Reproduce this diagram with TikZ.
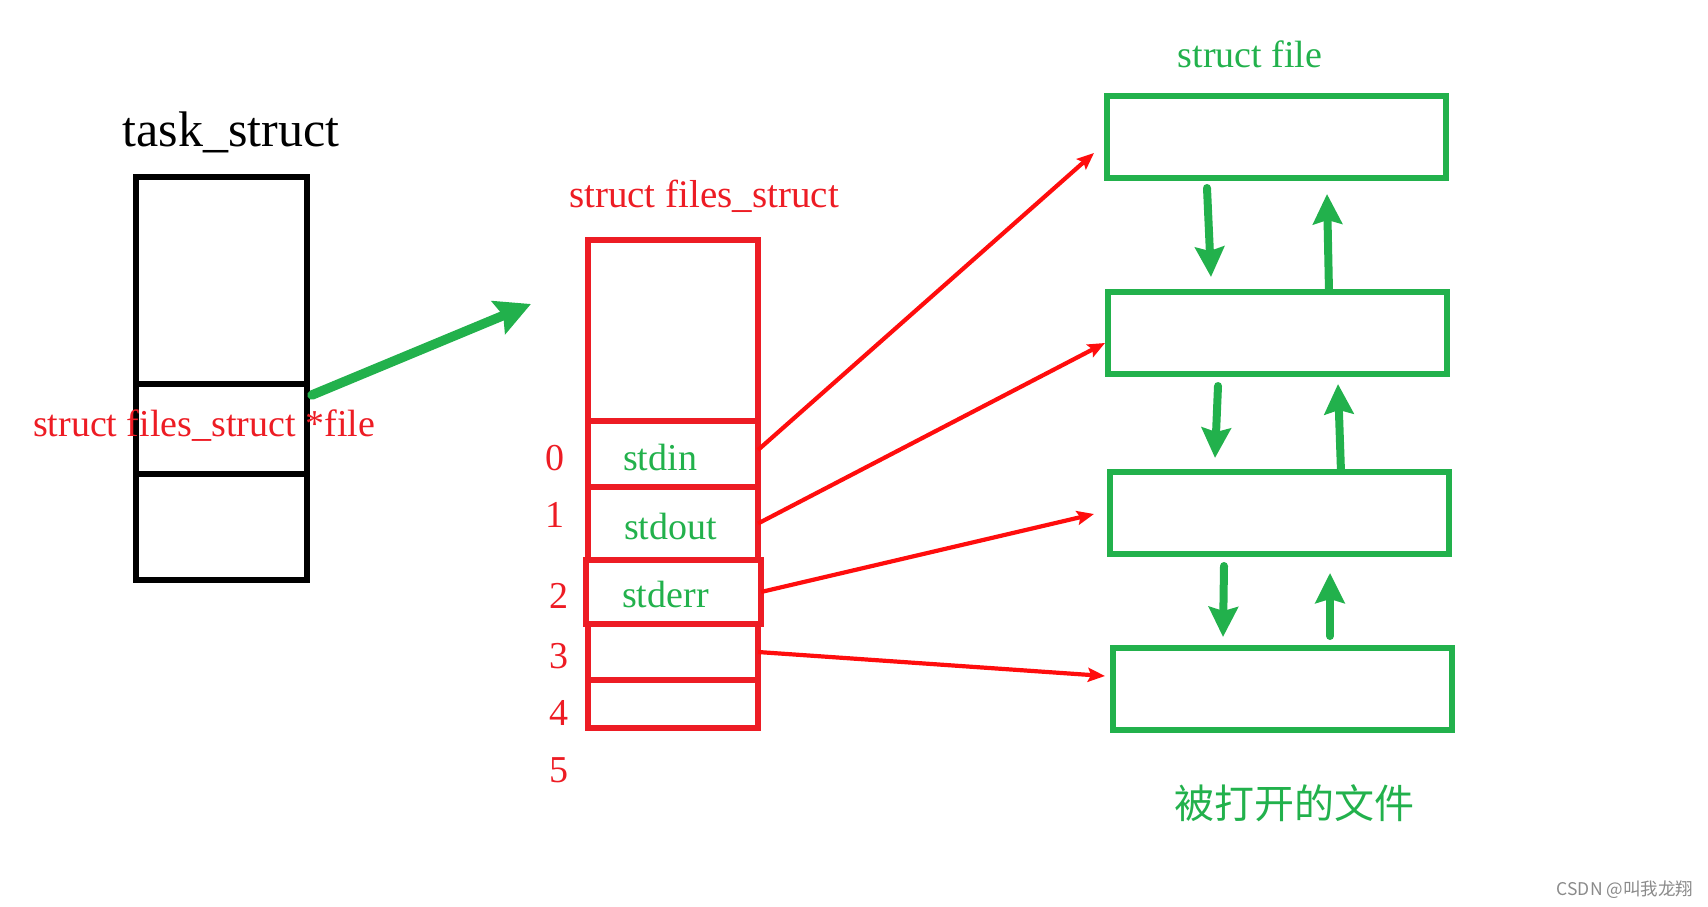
\documentclass[tikz,border=0pt]{standalone}
\usepackage{fontspec}
\setmainfont{Liberation Serif}
\newfontfamily\cjkfont{Noto Sans CJK SC}
\usetikzlibrary{arrows.meta}
\definecolor{boxred}{HTML}{ED1C24}
\definecolor{arrred}{HTML}{FF0D0D}
\definecolor{mygreen}{HTML}{22B14C}
\definecolor{wmgray}{HTML}{8A8A8A}
\tikzset{
  cell/.style={draw, rectangle, inner sep=0pt, outer sep=0pt},
  blackcell/.style={cell, line width=5.3pt, black},
  redcell/.style={cell, line width=5.2pt, boxred},
  greencell/.style={cell, line width=5.4pt, mygreen, minimum width=339pt, minimum height=82pt},
  redarrow/.style={line width=4.2pt, arrred, -{Stealth[length=17pt,width=14pt,inset=3pt]}},
  greenarrow/.style={line width=8pt, mygreen, line cap=round, -{Stealth[length=30pt,width=29pt,inset=4pt]}},
  bigarrow/.style={line width=9.5pt, mygreen, line cap=round, -{Stealth[length=35pt,width=35pt,inset=5pt]}},
  redtxt/.style={text=boxred, font=\fontsize{38}{44}\selectfont, inner sep=0pt, anchor=base},
  greentxt/.style={text=mygreen, font=\fontsize{38}{44}\selectfont, inner sep=0pt, anchor=base},
}
\begin{document}
\begin{tikzpicture}[x=1pt,y=-1pt]
\useasboundingbox (0,0) rectangle (1708,907);

% task_struct
\node[inner sep=0pt, anchor=base, font=\fontsize{50}{56}\selectfont] (tasklbl) at (231,146) {task\_struct};
\node[blackcell, minimum width=171pt, minimum height=207pt, anchor=north west] (ttop) at (136,177) {};
\node[blackcell, minimum width=171pt, minimum height=90pt, anchor=north west] (tmid) at (136,384) {};
\node[blackcell, minimum width=171pt, minimum height=106pt, anchor=north west] (tbot) at (136,474) {};
\node[redtxt] (fileptr) at (204,436) {struct files\_struct *file};

% files_struct
\node[redtxt, font=\fontsize{39}{44}\selectfont] (fslbl) at (704,207) {struct files\_struct};
\node[redcell, minimum width=170pt, minimum height=181pt, anchor=north west] (ftop) at (588,240) {};
\node[redcell, minimum width=170pt, minimum height=66pt, anchor=north west] (stdin) at (588,421) {};
\node[redcell, minimum width=170pt, minimum height=73pt, anchor=north west] (stdout) at (588,487) {};
\node[redcell, minimum width=170pt, minimum height=56pt, anchor=north west] (slot3) at (588,624) {};
\node[redcell, minimum width=170pt, minimum height=48pt, anchor=north west] (slot4) at (588,680) {};
\node[redcell, line width=5.8pt, minimum width=175pt, minimum height=64pt, anchor=north west] (stderr) at (586,560) {};

\node[greentxt, anchor=base west] (tin) at (623,470) {stdin};
\node[greentxt, anchor=base west] (tout) at (624,539) {stdout};
\node[greentxt, anchor=base west] (terr) at (622,607) {stderr};

\node[redtxt] (n0) at (555,470) {0};
\node[redtxt] (n1) at (555,527) {1};
\node[redtxt] (n2) at (559,608) {2};
\node[redtxt] (n3) at (559,668) {3};
\node[redtxt] (n4) at (559,725) {4};
\node[redtxt] (n5) at (559,782) {5};

% struct file boxes
\node[greentxt] (sflbl) at (1250,67) {struct file};
\node[greencell, anchor=north west] (f1) at (1107,96) {};
\node[greencell, anchor=north west] (f2) at (1108,292) {};
\node[greencell, anchor=north west] (f3) at (1110,472) {};
\node[greencell, anchor=north west] (f4) at (1113,648) {};

\node[text=mygreen, inner sep=0pt, font=\cjkfont\fontsize{40}{44}\selectfont] (opened) at (1294,803) {被打开的文件};
\node[text=wmgray, inner sep=0pt, font=\cjkfont\fontsize{17.5}{20}\selectfont] (wm) at (1625,890) {CSDN @叫我龙翔};

% big green arrow
\coordinate (bigtip) at (531,304);
\draw[bigarrow] (312,395) -- (bigtip);

% red arrows
\coordinate (r1) at (1094,153);
\coordinate (r2) at (1105,343);
\coordinate (r3) at (1094,514);
\coordinate (r4) at (1105,676);
\draw[redarrow] ([yshift=4pt]stdin.east) -- (r1);
\draw[redarrow] (stdout.east) -- (r2);
\draw[redarrow] (stderr.east) -- (r3);
\draw[redarrow] (slot3.east) -- (r4);

% green vertical arrows
\coordinate (d1s) at (1207,188); \coordinate (d1e) at (1211,277);
\coordinate (u1s) at (1329,292); \coordinate (u1e) at (1327,194);
\coordinate (d2s) at (1218,386); \coordinate (d2e) at (1215,458);
\coordinate (u2s) at (1341,472); \coordinate (u2e) at (1338,384);
\coordinate (d3s) at (1224,566); \coordinate (d3e) at (1223,637);
\coordinate (u3s) at (1330,636); \coordinate (u3e) at (1330,573);
\draw[greenarrow] (d1s) -- (d1e);
\draw[greenarrow, line cap=butt] (u1s) -- (u1e);
\draw[greenarrow] (d2s) -- (d2e);
\draw[greenarrow, line cap=butt] (u2s) -- (u2e);
\draw[greenarrow] (d3s) -- (d3e);
\draw[greenarrow] (u3s) -- (u3e);
\end{tikzpicture}
\end{document}
